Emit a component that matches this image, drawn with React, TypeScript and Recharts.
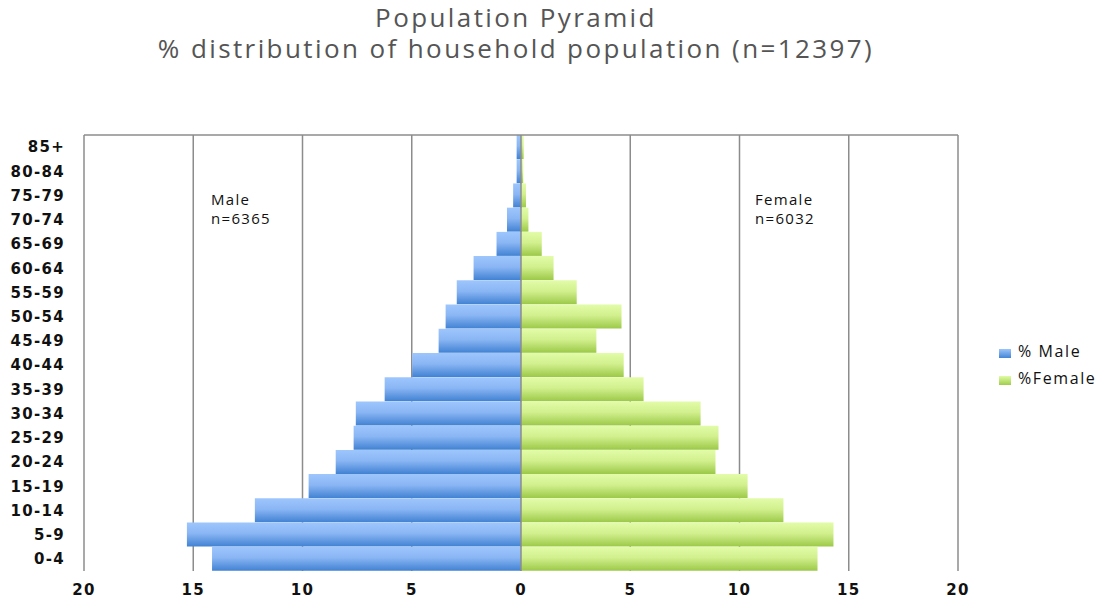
import React from "react";
import {
  BarChart,
  Bar,
  XAxis,
  YAxis,
  CartesianGrid,
  ReferenceLine,
} from "recharts";

const ageGroups = [
  "85+", "80-84", "75-79", "70-74", "65-69", "60-64", "55-59", "50-54", "45-49",
  "40-44", "35-39", "30-34", "25-29", "20-24", "15-19", "10-14", "5-9", "0-4",
];
const malePct = [
  0.2, 0.2, 0.36, 0.64, 1.12, 2.17, 2.94, 3.45, 3.77,
  4.98, 6.24, 7.56, 7.66, 8.48, 9.72, 12.18, 15.29, 14.14,
];
const femalePct = [
  0.12, 0.1, 0.23, 0.34, 0.95, 1.49, 2.55, 4.6, 3.45,
  4.7, 5.61, 8.22, 9.04, 8.9, 10.37, 12.01, 14.3, 13.57,
];
const xTicks = [-20, -15, -10, -5, 0, 5, 10, 15, 20];
const titleLines = [
  "Population Pyramid",
  "% distribution of household population (n=12397)",
];
const maleNote = ["Male", "n=6365"];
const femaleNote = ["Female", "n=6032"];
const legendLabels = ["% Male", "%Female"];

const data = ageGroups.map((g, i) => ({
  age: g,
  male: -malePct[i],
  female: femalePct[i],
}));

const tickStyle = {
  fontFamily: "'DejaVu Sans', sans-serif",
  fontWeight: "bold",
  fontSize: 15,
  fill: "#111",
  letterSpacing: 1.3,
};

export default function App() {
  return (
    <div style={{ position: "absolute", left: 0, top: 0, width: 1104, height: 600, background: "#fff" }}>
      <div
        style={{
          position: "absolute",
          left: 0,
          top: 2,
          width: 1032,
          textAlign: "center",
          fontFamily: "'Open Sans', sans-serif",
          fontSize: 26,
          lineHeight: "31px",
          color: "#555",
          letterSpacing: 2.4,
        }}
      >
        {titleLines.map((t) => (
          <div key={t}>{t}</div>
        ))}
      </div>
      <BarChart
        width={1104}
        height={600}
        data={data}
        layout="vertical"
        stackOffset="sign"
        barCategoryGap={0}
        margin={{ top: 134, right: 146, bottom: 0, left: 0 }}
      >
        <defs>
          <linearGradient id="gMale" x1="0" y1="0" x2="0" y2="1">
            <stop offset="0%" stopColor="#9ec6fd" />
            <stop offset="45%" stopColor="#8ab6f4" />
            <stop offset="100%" stopColor="#4182d2" />
          </linearGradient>
          <linearGradient id="gFemale" x1="0" y1="0" x2="0" y2="1">
            <stop offset="0%" stopColor="#e2fca8" />
            <stop offset="45%" stopColor="#d2f08e" />
            <stop offset="100%" stopColor="#9cc948" />
          </linearGradient>
        </defs>
        <CartesianGrid horizontal={false} stroke="#8c8c8c" strokeWidth={1.5} />
        <XAxis
          type="number"
          domain={[-20, 20]}
          ticks={xTicks}
          tickFormatter={(v: number) => String(Math.abs(v))}
          axisLine={false}
          tickLine={false}
          tickMargin={7}
          height={29}
          tick={tickStyle}
        />
        <XAxis
          xAxisId="top"
          orientation="top"
          type="number"
          domain={[-20, 20]}
          ticks={xTicks}
          height={1}
          stroke="#8c8c8c"
          axisLine={{ stroke: "#8c8c8c", strokeWidth: 1.5 }}
          tickLine={{ stroke: "#8c8c8c", strokeWidth: 1.5 }}
          tickSize={5}
          tick={() => <g />}
        />
        <YAxis
          type="category"
          dataKey="age"
          width={84}
          axisLine={false}
          tickLine={false}
          tickMargin={13}
          interval={0}
          tick={tickStyle}
        />
        <Bar dataKey="male" stackId="a" fill="url(#gMale)" isAnimationActive={false} />
        <Bar dataKey="female" stackId="a" fill="url(#gFemale)" isAnimationActive={false} />
        <ReferenceLine x={0} stroke="#8c8c8c" strokeWidth={1.5} />
      </BarChart>
      {[
        { lines: maleNote, left: 211 },
        { lines: femaleNote, left: 755 },
      ].map((n) => (
        <div
          key={n.lines[0]}
          style={{
            position: "absolute",
            left: n.left,
            top: 190,
            fontFamily: "'Open Sans', sans-serif",
            fontSize: 15,
            lineHeight: "19px",
            color: "#111",
            letterSpacing: 1.3,
          }}
        >
          {n.lines.map((l) => (
            <div key={l}>{l}</div>
          ))}
        </div>
      ))}
      <div
        style={{
          position: "absolute",
          left: 999,
          top: 337,
          fontFamily: "'Open Sans', sans-serif",
          fontSize: 16,
          color: "#111",
          letterSpacing: 1.6,
        }}
      >
        {legendLabels.map((l, i) => (
          <div key={l} style={{ display: "flex", alignItems: "center", height: 27 }}>
            <span
              style={{
                display: "inline-block",
                width: 12,
                height: 9,
                marginRight: 7,
                marginTop: 5,
                background:
                  i === 0
                    ? "linear-gradient(#9cc4fc, #4485d4)"
                    : "linear-gradient(#e0fca4, #a0cc4c)",
              }}
            />
            <span>{l}</span>
          </div>
        ))}
      </div>
    </div>
  );
}
